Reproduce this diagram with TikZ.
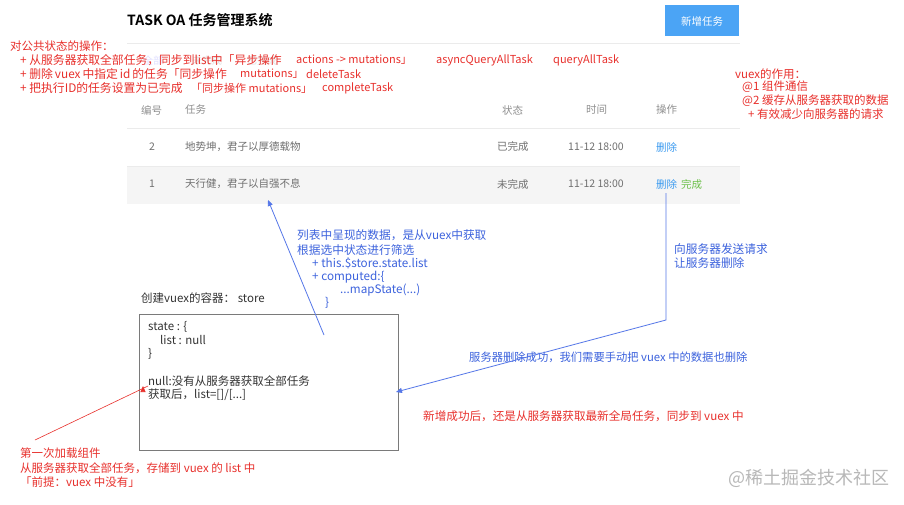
\documentclass[tikz,border=0pt]{standalone}
\usepackage{fontspec}
\usetikzlibrary{arrows.meta}
\newfontfamily\cjk{Noto Sans CJK SC}[BoldFont={Noto Sans CJK SC Bold}]
\definecolor{annred}{HTML}{E8302C}
\definecolor{annblue}{HTML}{3D63DD}
\definecolor{lineblue}{HTML}{5577E8}
\definecolor{btnblue}{HTML}{4BA4F5}
\definecolor{linkblue}{HTML}{3C9BF0}
\definecolor{okgreen}{HTML}{6CC04A}
\definecolor{txtgray}{HTML}{707070}
\definecolor{hdrgray}{HTML}{909090}
\definecolor{rowbg}{HTML}{F5F5F5}
\definecolor{sepgray}{HTML}{EBEBEB}
\definecolor{boxgray}{HTML}{7A7A7A}
\definecolor{darktxt}{HTML}{333333}
\tikzset{
  t/.style={anchor=west, inner sep=0pt, font=\cjk\fontsize{11}{14}\selectfont},
  red/.style={t, text=annred},
  redl/.style={t, text=annred, font=\cjk\fontsize{11.5}{14}\selectfont},
  redx/.style={t, text=annred, font=\cjk\fontsize{11.8}{14}\selectfont},
  blu/.style={t, text=annblue, font=\cjk\fontsize{11.7}{14}\selectfont},
  hdr/.style={t, text=hdrgray, font=\cjk\fontsize{10.5}{13}\selectfont},
  cell/.style={t, text=txtgray, font=\cjk\fontsize{10.5}{13}\selectfont},
  boxtxt/.style={t, text=darktxt, font=\cjk\fontsize{11.5}{13}\selectfont},
  bluearrow/.style={draw=lineblue, line width=0.8pt, -{Triangle[length=6pt,width=5pt]}},
  redarrow/.style={draw=annred, line width=0.6pt, -{Triangle[length=6pt,width=5pt]}},
}
\begin{document}
\begin{tikzpicture}[x=1pt,y=-1pt]
\useasboundingbox[fill=white] (0,0) rectangle (904,505);
% page header
\node[t, font=\cjk\bfseries\fontsize{14}{16}\selectfont, text=black] (title) at (127,20) {TASK OA 任务管理系统};
\node[fill=btnblue, minimum width=74pt, minimum height=31pt, inner sep=0pt, text=white, font=\cjk\fontsize{10.5}{12}\selectfont] (btn) at (702,21) {新增任务};
\draw[sepgray, line width=0.8pt] (127,43) -- (740,43);
% faint tabs
\node[t, text=blue!12, font=\cjk\fontsize{10}{12}\selectfont] (tab1) at (143,61) {全部};
\node[t, text=black!12, font=\cjk\fontsize{10}{12}\selectfont] (tab2) at (192,61) {未完成};
\node[t, text=black!12, font=\cjk\fontsize{10}{12}\selectfont] (tab3) at (247,61) {已完成};
% table
\fill[rowbg] (127,166) rectangle (740,204);
\draw[sepgray, line width=0.8pt] (127,128) -- (740,128);
\draw[sepgray, line width=0.8pt] (127,166) -- (740,166);
\node[hdr] (h1) at (141,110) {编号};
\node[hdr] (h2) at (185,110) {任务};
\node[hdr] (h3) at (502,110) {状态};
\node[hdr] (h4) at (586,110) {时间};
\node[hdr] (h5) at (656,110) {操作};
\node[cell] (r1a) at (149,147) {2};
\node[cell] (r1b) at (185,147) {地势坤，君子以厚德载物};
\node[cell] (r1c) at (497,147) {已完成};
\node[cell] (r1d) at (568,147) {11-12 18:00};
\node[cell, text=linkblue] (r1e) at (656,147) {删除};
\node[cell] (r2a) at (149,184) {1};
\node[cell] (r2b) at (185,184) {天行健，君子以自强不息};
\node[cell] (r2c) at (497,184) {未完成};
\node[cell] (r2d) at (568,184) {11-12 18:00};
\node[cell, text=linkblue] (r2e) at (656,184) {删除};
\node[cell, text=okgreen] (r2f) at (681,184) {完成};
% red annotations top-left
\node[redl] (op0) at (10,46) {对公共状态的操作：};
\node[redx] (op1a) at (20,60) {+ 从服务器获取全部任务，同步到list中「异步操作};
\node[red] (op1b) at (296,60) {actions -> mutations」};
\node[red] (op1c) at (436,60) {asyncQueryAllTask};
\node[red] (op1d) at (553,60) {queryAllTask};
\node[redx] (op2a) at (20,74) {+ 删除\,vuex\,中指定\,id\,的任务「同步操作};
\node[red] (op2b) at (240,74) {mutations」};
\node[red] (op2c) at (306,74) {deleteTask};
\node[redx] (op3a) at (20,88) {+ 把执行ID的任务设置为已完成};
\node[red] (op3b) at (191,88) {「同步操作 mutations」};
\node[red] (op3c) at (322,88) {completeTask};
% red annotations right
\node[redl] (vx0) at (735,74) {vuex的作用：};
\node[redl] (vx1) at (742,87) {@1 组件通信};
\node[redl] (vx2) at (742,101) {@2 缓存从服务器获取的数据};
\node[redl] (vx3) at (748,114) {+ 有效减少向服务器的请求};
% store box
\node[boxtxt] (storelbl) at (141,298) {创建vuex的容器： store};
\draw[boxgray, line width=0.9pt] (139,314) rectangle (398,450);
\coordinate (boxE) at (396,392);
\node[boxtxt] (s1) at (148,327) {state : \{};
\node[boxtxt] (s2) at (160,340) {list : null};
\node[boxtxt] (s3) at (148,354) {\}};
\node[boxtxt] (s4) at (148,381) {null:没有从服务器获取全部任务};
\node[boxtxt] (s5) at (148,395) {获取后，list=[]/[...]};
% blue annotations
\node[blu] (b1) at (297,235) {列表中呈现的数据，是从vuex中获取};
\node[blu] (b2) at (297,250) {根据选中状态进行筛选};
\node[blu] (b3) at (312,263) {+ this.\$store.state.list};
\node[blu] (b4) at (312,277) {+ computed:\{};
\node[blu] (b5) at (340,290) {...mapState(...)};
\node[blu] (b6) at (325,303) {\}};
\node[blu] (d1) at (674,249) {向服务器发送请求};
\node[blu] (d2) at (674,263) {让服务器删除};
\node[blu, font=\cjk\fontsize{11.3}{14}\selectfont] (d3) at (469,357) {服务器删除成功，我们需要手动把 vuex 中的数据也删除};
\node[red, font=\cjk\fontsize{11.6}{14}\selectfont] (n1) at (423,416) {新增成功后，还是从服务器获取最新全局任务，同步到 vuex 中};
% bottom-left red
\node[redl] (f1) at (20,453) {第一次加载组件};
\node[redl] (f2) at (20,468) {从服务器获取全部任务，存储到 vuex 的 list 中};
\node[redl] (f3) at (20,482) {「前提：vuex 中没有」};
% watermark
\node[t, text=black!28, font=\cjk\fontsize{18}{20}\selectfont] (wm) at (728,478) {@稀土掘金技术社区};
% connectors
\coordinate (listStart) at (324,335);
\coordinate (listEnd) at (268,200);
\draw[bluearrow] (listStart) -- (listEnd);
\coordinate (delDown) at (666,320);
\draw[bluearrow] (r2e.south -| 666,0) ++(0,4) -- (delDown) -- (boxE);
\coordinate (firstLoad) at (35,440);
\draw[redarrow] (firstLoad) -- (s4.west |- 0,386) ++(-5,0);
\end{tikzpicture}
\end{document}
